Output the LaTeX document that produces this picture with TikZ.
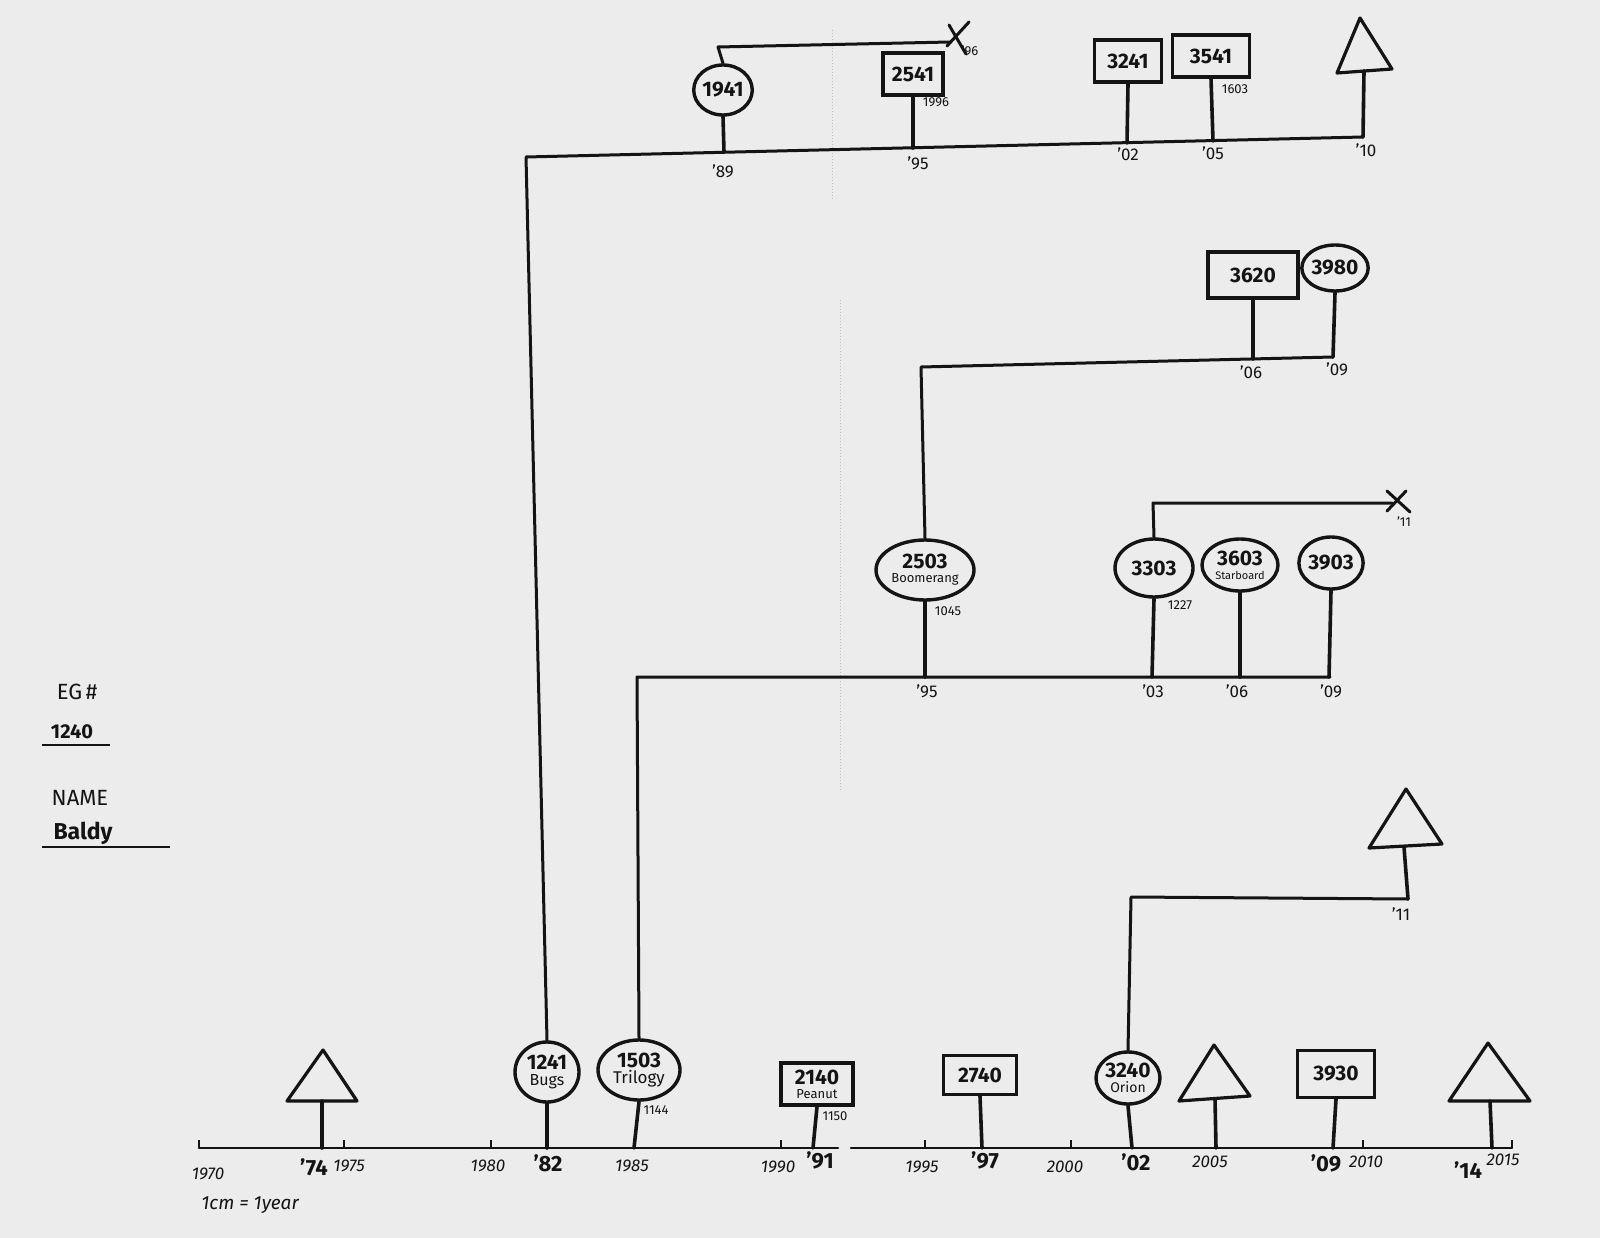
\documentclass[tikz,border=0pt]{standalone}
\usepackage{fontspec}
\setmainfont{Fira Sans}
\usetikzlibrary{shapes.geometric}
\definecolor{pagebg}{RGB}{236,236,236}
\definecolor{ink}{RGB}{20,20,20}
\begin{document}
\begin{tikzpicture}[x=1pt,y=-1pt,
  ln/.style={draw=ink, line width=3pt, line cap=round, line join=round},
  stem/.style={draw=ink, line width=3.6pt, line cap=round},
  axis/.style={draw=ink, line width=2.2pt, line cap=round},
  oval/.style={ellipse, draw=ink, line width=3.4pt, inner sep=0pt, align=center, text=ink,
    font=\bfseries\fontsize{21}{17}\selectfont},
  sign/.style={rectangle, draw=ink, line width=3.4pt, inner sep=0pt, align=center, text=ink,
    font=\bfseries\fontsize{21}{17}\selectfont},
  tri/.style={draw=ink, line width=3.2pt, line join=round},
  tiny/.style={font=\fontsize{13}{13}\selectfont, inner sep=0pt, text=ink},
  yr/.style={font=\itshape\fontsize{17}{17}\selectfont, inner sep=0pt, text=ink},
  byr/.style={font=\bfseries\fontsize{22}{22}\selectfont, inner sep=0pt, text=ink},
  tyr/.style={font=\fontsize{17}{17}\selectfont, inner sep=0pt, text=ink},
  lab/.style={font=\fontsize{22}{22}\selectfont, inner sep=0pt, text=ink},
  blab/.style={font=\bfseries\fontsize{20}{20}\selectfont, inner sep=0pt, text=ink},
  fold/.style={draw=black!25, line width=1pt, dotted},
]
\fill[pagebg] (0,0) rectangle (1600,1238);
\useasboundingbox (0,0) rectangle (1600,1238);

% faint fold lines of the scan
\draw[fold] (832,30) -- (832,200);
\draw[fold] (840,300) -- (840,790);

% ---------- left header ----------
\node[lab] (eg) at (77,692) {EG\,\#};
\node[blab] (egn) at (72,732) {1240};
\draw[line width=1.5pt, ink] (42,745) -- (110,745);
\node[lab] (nm) at (80,798) {NAME};
\node[blab, font=\bfseries\fontsize{23}{23}\selectfont] (nmv) at (83,833) {Baldy};
\draw[line width=1.5pt, ink] (42,847) -- (170,847);

% ---------- main axis ----------
\coordinate (ax0) at (199,1148);
\coordinate (axg1) at (838,1148);
\coordinate (axg2) at (851,1148);
\coordinate (ax1) at (1512,1148);
\draw[axis] (ax0) -- (axg1);
\draw[axis] (axg2) -- (ax1);
\foreach \x in {199,344,491,781,925,1071,1363,1512}
  \draw[line width=1.3pt, ink] (\x,1148) -- (\x,1140);

\node[yr] (y70) at (208,1174) {1970};
\node[yr] (y75) at (349,1166) {1975};
\node[yr] (y80) at (488,1166) {1980};
\node[yr] (y85) at (632,1166) {1985};
\node[yr] (y90) at (778,1167) {1990};
\node[yr] (y95) at (922,1167) {1995};
\node[yr] (y00) at (1065,1167) {2000};
\node[yr] (y05) at (1210,1162) {2005};
\node[yr] (y10) at (1366,1162) {2010};
\node[yr] (y15) at (1503,1160) {2015};
\node[tyr, font=\itshape\fontsize{19}{19}\selectfont] (scale) at (250,1205) {1cm = 1year};

\node[byr] (b74) at (314,1167) {'74};
\node[byr] (b82) at (548,1163) {'82};
\node[byr] (b91) at (820,1160) {'91};
\node[byr] (b97) at (985,1160) {'97};
\node[byr] (b02) at (1136,1162) {'02};
\node[byr] (b09) at (1326,1163) {'09};
\node[byr] (b14) at (1468,1170) {'14};

% axis anchor points
\coordinate (a74) at (322,1148);
\coordinate (a82) at (547,1148);
\coordinate (a85) at (634,1148);
\coordinate (a91) at (813,1148);
\coordinate (a97) at (982,1148);
\coordinate (a02) at (1132,1148);
\coordinate (a05) at (1216,1148);
\coordinate (a09) at (1333,1148);
\coordinate (a14) at (1492,1148);

% bottom nodes
\coordinate (t74) at (322,1101);
\draw[tri] (t74) ++(-35,0) -- ++(36,-51) -- ++(34,51) -- cycle;
\draw[stem] (t74) -- (a74);

\node[oval, minimum width=64pt, minimum height=60pt] (o1241) at (547,1072)
  {1241\\[-1pt]{\mdseries\fontsize{16}{16}\selectfont Bugs}};
\draw[stem] (o1241) -- (a82);

\node[oval, minimum width=82pt, minimum height=60pt] (o1503) at (639,1070)
  {1503\\[-1pt]{\mdseries\fontsize{17}{17}\selectfont Trilogy}};
\draw[stem] (o1503.south) -- (a85);
\node[tiny] (n1144) at (656,1110) {1144};

\node[sign, minimum width=72pt, minimum height=42pt] (s2140) at (817,1084)
  {2140\\[-3pt]{\mdseries\fontsize{13}{13}\selectfont Peanut}};
\draw[stem] (s2140.south) -- (a91);
\node[tiny] (n1150) at (835,1116) {1150};

\node[sign, minimum width=73pt, minimum height=39pt] (s2740) at (980,1075) {2740};
\draw[stem] (s2740.south) -- (a97);

\node[oval, minimum width=64pt, minimum height=52pt] (o3240) at (1128,1078)
  {3240\\[-2pt]{\mdseries\fontsize{14}{14}\selectfont Orion}};
\draw[stem] (o3240.south) -- (a02);

\coordinate (t05) at (1215,1099);
\draw[tri] (t05) ++(-36,2) -- ++(35,-56) -- ++(36,51) -- cycle;
\draw[stem] (t05) -- (a05);

\node[sign, minimum width=77pt, minimum height=47pt] (s3930) at (1336,1074) {3930};
\draw[stem] (s3930.south) -- (a09);

\coordinate (t14) at (1490,1101);
\draw[tri] (t14) ++(-41,0) -- ++(39,-58) -- ++(42,58) -- cycle;
\draw[stem] (t14) -- (a14);

% ---------- Orion branch ----------
\coordinate (ko) at (1131,897);
\coordinate (koR) at (1408,899);
\draw[ln] (o3240.north) -- (ko) -- (koR);
\coordinate (t11) at (1404,847);
\draw[tri] (t11) ++(-35,1) -- ++(37,-59) -- ++(36,55) -- cycle;
\draw[stem] (t11) -- (koR);
\node[tyr] (l11b) at (1401,914) {'11};

% ---------- Trilogy branch ----------
\coordinate (kt) at (637,677);
\coordinate (ktR) at (1330,677);
\draw[ln] (o1503.north) -- (kt) -- (ktR);
\coordinate (m95) at (925,677);
\coordinate (m03) at (1152,677);
\coordinate (m06) at (1240,677);
\coordinate (m09) at (1329,677);

\node[oval, minimum width=98pt, minimum height=60pt] (o2503) at (925,570)
  {2503\\[-3pt]{\mdseries\fontsize{13}{13}\selectfont Boomerang}};
\draw[stem] (o2503.south) -- (m95);
\node[tiny] (n1045) at (948,611) {1045};

\node[oval, minimum width=78pt, minimum height=58pt] (o3303) at (1154,568) {3303};
\draw[stem] (o3303.south) -- (m03);
\node[tiny] (n1227) at (1180,605) {1227};

\node[oval, minimum width=76pt, minimum height=52pt] (o3603) at (1240,565)
  {3603\\[-3pt]{\mdseries\fontsize{11}{11}\selectfont Starboard}};
\draw[stem] (o3603.south) -- (m06);

\node[oval, minimum width=64pt, minimum height=52pt] (o3903) at (1331,563) {3903};
\draw[stem] (o3903.south) -- (m09);

\node[tyr] (l95m) at (927,691) {'95};
\node[tyr] (l03m) at (1153,691) {'03};
\node[tyr] (l06m) at (1237,691) {'06};
\node[tyr] (l09m) at (1331,691) {'09};

% 3303 sub-branch ending in X
\coordinate (k3303) at (1153,503);
\coordinate (x11) at (1392,503);
\draw[ln] (o3303.north) -- (k3303) -- (x11);
\draw[ln] (1387,491) -- (1410,512);
\draw[ln] (1406,491) -- (1387,511);
\node[tiny] (l11x) at (1404,522) {'11};

% ---------- Boomerang branch ----------
\coordinate (kb) at (921,367);
\coordinate (kbR) at (1333,357);
\draw[ln] (o2503.north) -- (kb) -- (kbR);
\coordinate (u06) at (1253,359);

\node[sign, minimum width=90pt, minimum height=46pt] (s3620) at (1253,275) {3620};
\draw[stem] (s3620.south) -- (u06);
\node[oval, minimum width=66pt, minimum height=46pt] (o3980) at (1335,268) {3980};
\draw[stem] (o3980.south) -- (kbR);
\node[tyr] (l06u) at (1251,372) {'06};
\node[tyr] (l09u) at (1337,369) {'09};

% ---------- Bugs branch (top) ----------
\coordinate (ktop) at (526,157);
\coordinate (ktopR) at (1363,137);
\draw[ln] (o1241.north) -- (ktop) -- (ktopR);
\coordinate (p89) at (724,152);
\coordinate (p95) at (913,148);
\coordinate (p02) at (1127,143);
\coordinate (p05) at (1213,141);

\node[oval, minimum width=58pt, minimum height=50pt] (o1941) at (723,90) {1941};
\draw[stem] (o1941.south) -- (p89);
\coordinate (k1941) at (718,47);
\coordinate (x96) at (950,42);
\draw[ln] (o1941.north) -- (k1941) -- (x96);
\draw[ln] (949,25) -- (966,54);
\draw[ln] (969,22) -- (947,46);
\node[tiny] (l96x) at (970,51) {'96};

\node[sign, minimum width=60pt, minimum height=42pt] (s2541) at (913,74) {2541};
\draw[stem] (s2541.south) -- (p95);
\node[tiny] (n1996) at (936,102) {1996};

\node[sign, minimum width=67pt, minimum height=42pt] (s3241) at (1128,61) {3241};
\draw[stem] (s3241.south) -- (p02);

\node[sign, minimum width=77pt, minimum height=42pt] (s3541) at (1211,56) {3541};
\draw[stem] (s3541.south) -- (p05);
\node[tiny] (n1603) at (1235,89) {1603};

\coordinate (t10) at (1364,71);
\draw[tri] (t10) ++(-27,2) -- ++(23,-55) -- ++(32,51) -- cycle;
\draw[stem] (t10) -- (ktopR);

\node[tyr] (l89) at (723,171) {'89};
\node[tyr] (l95t) at (918,163) {'95};
\node[tyr] (l02t) at (1128,154) {'02};
\node[tyr] (l05t) at (1213,153) {'05};
\node[tyr] (l10t) at (1366,150) {'10};
\end{tikzpicture}
\end{document}
